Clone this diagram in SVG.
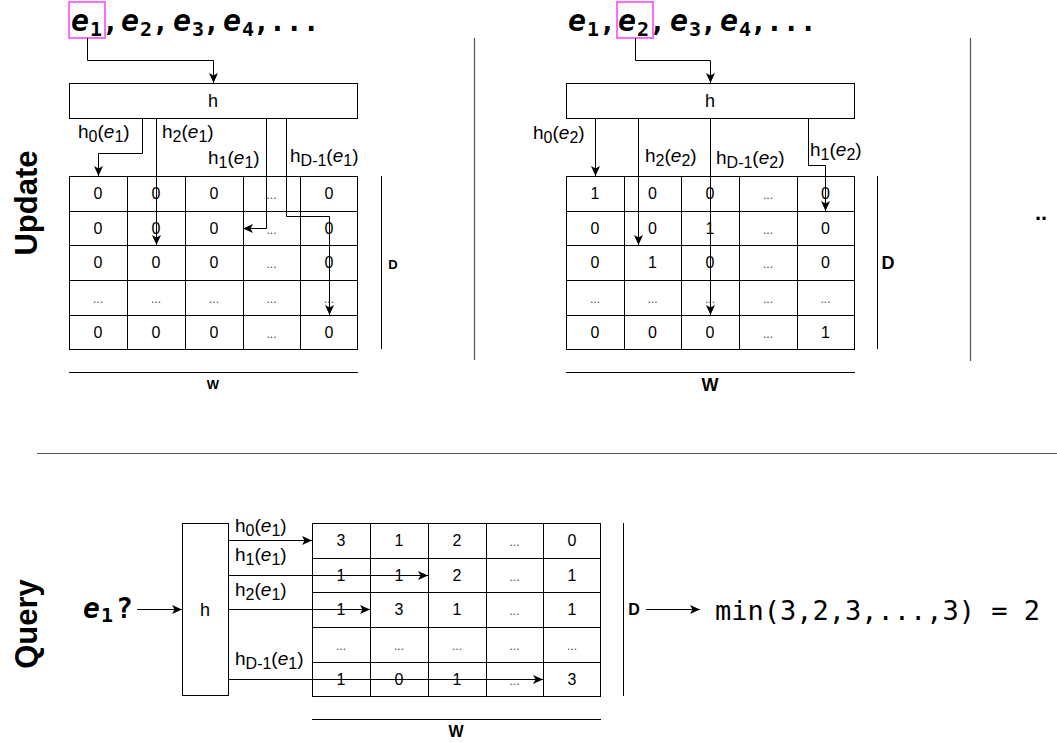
<svg xmlns="http://www.w3.org/2000/svg" width="1057" height="742" viewBox="0 0 1057 742">
<defs>
<marker id="ah" markerUnits="userSpaceOnUse" markerWidth="10" markerHeight="9" viewBox="0 0 10 9" refX="10" refY="4.5" orient="auto">
<path d="M0,0 L10,4.5 L0,9 L2.5,4.5 z" fill="#000"/>
</marker>
<style>
.box{fill:#fff;stroke:#000;stroke-width:1}
.grid{fill:none;stroke:#000;stroke-width:1}
.c{fill:none;stroke:#000;stroke-width:1;marker-end:url(#ah)}
.sep{fill:none;stroke:#555;stroke-width:1.2}
.bar{fill:none;stroke:#000;stroke-width:1}
.pink{fill:none;stroke:#ff6bff;stroke-width:2}
.num{font-family:"Liberation Sans",Arial,sans-serif;font-size:16px;text-anchor:middle;fill:#000}
.dots{font-family:"Liberation Sans",Arial,sans-serif;font-size:12px;text-anchor:middle;fill:#444}
.lbl{font-family:"Liberation Sans",Arial,sans-serif;font-size:19px;fill:#000}
.sb{font-size:16px}
.it{font-style:italic}
.hb{font-family:"Liberation Sans",Arial,sans-serif;font-size:18px;text-anchor:middle}
.dimS{font-family:"Liberation Sans",Arial,sans-serif;font-size:13px;font-weight:bold;text-anchor:middle}
.dimL{font-family:"Liberation Sans",Arial,sans-serif;font-size:18px;font-weight:bold;text-anchor:middle}
.dimB{font-family:"Liberation Sans",Arial,sans-serif;font-size:16px;font-weight:bold;text-anchor:middle}
.side{font-family:"Liberation Sans",Arial,sans-serif;font-size:31px;font-weight:bold;text-anchor:middle}
.e{font-family:"DejaVu Sans Mono",monospace;font-size:30px;font-weight:bold;font-style:italic}
.es{font-family:"DejaVu Sans Mono",monospace;font-size:20px;font-weight:bold}
.m{font-family:"DejaVu Sans Mono",monospace;font-size:28px;font-weight:bold}
.mono{font-family:"DejaVu Sans Mono","Liberation Mono",monospace;font-size:27px}
</style>
</defs>
<rect width="1057" height="742" fill="#fff"/>

<!-- side labels -->
<text class="side" transform="translate(37,203) rotate(-90)">Update</text>
<text class="side" transform="translate(37,624) rotate(-90)">Query</text>

<!-- separators -->
<g id="separators">
<line class="sep" x1="474.5" y1="38" x2="474.5" y2="360"/>
<line class="sep" x1="970.5" y1="38" x2="970.5" y2="361"/>
<line class="sep" x1="37" y1="453.5" x2="1057" y2="453.5"/>
</g>

<!-- sequences -->
<g id="seq-left">
<text y="31"><tspan class="e" x="71">e</tspan><tspan class="es" x="90" y="36">1</tspan><tspan class="m" x="102" y="31">,</tspan><tspan class="e" x="121">e</tspan><tspan class="es" x="140" y="36">2</tspan><tspan class="m" x="152" y="31">,</tspan><tspan class="e" x="173">e</tspan><tspan class="es" x="192" y="36">3</tspan><tspan class="m" x="203" y="31">,</tspan><tspan class="e" x="223">e</tspan><tspan class="es" x="242" y="36">4</tspan><tspan class="m" x="253" y="31">,</tspan><tspan class="m" x="269" y="31">...</tspan></text>
<rect class="pink" x="69" y="2" width="36" height="36"/>
</g>
<g id="seq-right">
<text y="31"><tspan class="e" x="568">e</tspan><tspan class="es" x="587" y="36">1</tspan><tspan class="m" x="599" y="31">,</tspan><tspan class="e" x="618">e</tspan><tspan class="es" x="637" y="36">2</tspan><tspan class="m" x="649" y="31">,</tspan><tspan class="e" x="670">e</tspan><tspan class="es" x="689" y="36">3</tspan><tspan class="m" x="700" y="31">,</tspan><tspan class="e" x="720">e</tspan><tspan class="es" x="739" y="36">4</tspan><tspan class="m" x="750" y="31">,</tspan><tspan class="m" x="766" y="31">...</tspan></text>
<rect class="pink" x="617" y="2" width="36" height="36"/>
</g>

<!-- hash boxes -->
<g id="h-left"><rect class="box" x="69.5" y="83.5" width="288" height="35"/><text class="hb" x="213" y="107">h</text></g>
<g id="h-right"><rect class="box" x="566.5" y="83.5" width="288" height="35"/><text class="hb" x="710" y="107">h</text></g>
<g id="h-query"><rect class="box" x="182.5" y="523.5" width="46" height="172"/><text class="hb" x="205" y="616">h</text></g>

<!-- grid left -->
<g id="grid-left">
<rect class="grid" x="69.5" y="176.5" width="288" height="173"/>
<path class="grid" d="M127.5,176.5V349.5M185.5,176.5V349.5M243.5,176.5V349.5M300.5,176.5V349.5M69.5,211.5H357.5M69.5,245.5H357.5M69.5,280.5H357.5M69.5,315.5H357.5"/>
<g>
<text class="num" x="98" y="199">0</text><text class="num" x="156" y="199">0</text><text class="num" x="214" y="199">0</text><text class="dots" x="271.5" y="199">...</text><text class="num" x="329" y="199">0</text>
<text class="num" x="98" y="234">0</text><text class="num" x="156" y="234">0</text><text class="num" x="214" y="234">0</text><text class="dots" x="271.5" y="234">...</text><text class="num" x="329" y="234">0</text>
<text class="num" x="98" y="268">0</text><text class="num" x="156" y="268">0</text><text class="num" x="214" y="268">0</text><text class="dots" x="271.5" y="268">...</text><text class="num" x="329" y="268">0</text>
<text class="dots" x="98" y="303">...</text><text class="dots" x="156" y="303">...</text><text class="dots" x="214" y="303">...</text><text class="dots" x="271.5" y="303">...</text><text class="dots" x="329" y="303">...</text>
<text class="num" x="98" y="338">0</text><text class="num" x="156" y="338">0</text><text class="num" x="214" y="338">0</text><text class="dots" x="271.5" y="338">...</text><text class="num" x="329" y="338">0</text>
</g>
<line class="bar" x1="381.5" y1="176" x2="381.5" y2="349"/>
<text class="dimS" x="393" y="269">D</text>
<line class="bar" x1="69" y1="372.5" x2="358" y2="372.5"/>
<text class="dimS" x="213" y="389">W</text>
</g>

<!-- grid right -->
<g id="grid-right">
<rect class="grid" x="566.5" y="176.5" width="288" height="173"/>
<path class="grid" d="M624.5,176.5V349.5M681.5,176.5V349.5M739.5,176.5V349.5M797.5,176.5V349.5M566.5,211.5H854.5M566.5,245.5H854.5M566.5,280.5H854.5M566.5,315.5H854.5"/>
<g>
<text class="num" x="595" y="199">1</text><text class="num" x="652.5" y="199">0</text><text class="num" x="710" y="199">0</text><text class="dots" x="768" y="199">...</text><text class="num" x="825.5" y="199">0</text>
<text class="num" x="595" y="234">0</text><text class="num" x="652.5" y="234">0</text><text class="num" x="710" y="234">1</text><text class="dots" x="768" y="234">...</text><text class="num" x="825.5" y="234">0</text>
<text class="num" x="595" y="268">0</text><text class="num" x="652.5" y="268">1</text><text class="num" x="710" y="268">0</text><text class="dots" x="768" y="268">...</text><text class="num" x="825.5" y="268">0</text>
<text class="dots" x="595" y="303">...</text><text class="dots" x="652.5" y="303">...</text><text class="dots" x="710" y="303">...</text><text class="dots" x="768" y="303">...</text><text class="dots" x="825.5" y="303">...</text>
<text class="num" x="595" y="338">0</text><text class="num" x="652.5" y="338">0</text><text class="num" x="710" y="338">0</text><text class="dots" x="768" y="338">...</text><text class="num" x="825.5" y="338">1</text>
</g>
<line class="bar" x1="877.5" y1="176" x2="877.5" y2="349"/>
<text class="dimL" x="888" y="269">D</text>
<line class="bar" x1="566" y1="372.5" x2="855" y2="372.5"/>
<text class="dimL" x="710" y="391">W</text>
</g>

<text id="more" x="1035" y="220" font-family="Liberation Sans, Arial, sans-serif" font-size="22" font-weight="bold">..</text>

<!-- grid query -->
<g id="grid-query">
<rect class="grid" x="312.5" y="523.5" width="288" height="173"/>
<path class="grid" d="M370.5,523.5V696.5M428.5,523.5V696.5M486.5,523.5V696.5M543.5,523.5V696.5M312.5,558.5H600.5M312.5,592.5H600.5M312.5,627.5H600.5M312.5,662.5H600.5"/>
<g>
<text class="num" x="341" y="546">3</text><text class="num" x="399" y="546">1</text><text class="num" x="457" y="546">2</text><text class="dots" x="514.5" y="546">...</text><text class="num" x="572" y="546">0</text>
<text class="num" x="341" y="581">1</text><text class="num" x="399" y="581">1</text><text class="num" x="457" y="581">2</text><text class="dots" x="514.5" y="581">...</text><text class="num" x="572" y="581">1</text>
<text class="num" x="341" y="615">1</text><text class="num" x="399" y="615">3</text><text class="num" x="457" y="615">1</text><text class="dots" x="514.5" y="615">...</text><text class="num" x="572" y="615">1</text>
<text class="dots" x="341" y="650">...</text><text class="dots" x="399" y="650">...</text><text class="dots" x="457" y="650">...</text><text class="dots" x="514.5" y="650">...</text><text class="dots" x="572" y="650">...</text>
<text class="num" x="341" y="685">1</text><text class="num" x="399" y="685">0</text><text class="num" x="457" y="685">1</text><text class="dots" x="514.5" y="685">...</text><text class="num" x="572" y="685">3</text>
</g>
<line class="bar" x1="623.5" y1="523" x2="623.5" y2="696"/>
<text class="dimB" x="634" y="615">D</text>
<line class="bar" x1="312" y1="719.5" x2="601" y2="719.5"/>
<text class="dimB" x="456" y="737">W</text>
</g>

<!-- query input & result -->
<g id="query-input">
<text y="618"><tspan class="e" x="83" style="font-size:28px">e</tspan><tspan class="es" x="101" y="622">1</tspan><tspan class="m" x="116" y="618">?</tspan></text>
</g>
<g id="query-result">
<text class="mono" x="715" y="620">min(3,2,3,...,3) = 2</text>
</g>

<!-- connectors -->
<g id="connectors">
<path class="c" d="M87.5,38V60.5H213.5V83"/>
<path class="c" d="M635.5,38V60.5H710.5V83"/>
<path class="c" d="M142.5,118V153.5H98.5V176"/>
<path class="c" d="M156.5,118V245"/>
<path class="c" d="M266.5,118V228.5H243"/>
<path class="c" d="M286.5,118V216.5H329.5V315"/>
<path class="c" d="M595.5,118V176"/>
<path class="c" d="M638.5,118V245"/>
<path class="c" d="M710.5,118V315"/>
<path class="c" d="M808.5,118V165.5H825.5V211"/>
<path class="c" d="M229,540.5H312"/>
<path class="c" d="M229,575.5H428"/>
<path class="c" d="M229,609.5H370"/>
<path class="c" d="M229,679.5H543"/>
<path class="c" d="M137,609.5H182"/>
<path class="c" d="M646,609.5H700"/>
</g>

<!-- connector labels -->
<g id="labels">
<text class="lbl" x="78" y="138">h<tspan class="sb" dy="4">0</tspan><tspan dy="-4">(</tspan><tspan class="it">e</tspan><tspan class="sb" dy="4">1</tspan><tspan dy="-4">)</tspan></text>
<text class="lbl" x="162" y="138">h<tspan class="sb" dy="4">2</tspan><tspan dy="-4">(</tspan><tspan class="it">e</tspan><tspan class="sb" dy="4">1</tspan><tspan dy="-4">)</tspan></text>
<text class="lbl" x="208" y="164">h<tspan class="sb" dy="4">1</tspan><tspan dy="-4">(</tspan><tspan class="it">e</tspan><tspan class="sb" dy="4">1</tspan><tspan dy="-4">)</tspan></text>
<text class="lbl" x="290" y="162">h<tspan class="sb" dy="4">D-1</tspan><tspan dy="-4">(</tspan><tspan class="it">e</tspan><tspan class="sb" dy="4">1</tspan><tspan dy="-4">)</tspan></text>
<text class="lbl" x="533" y="139">h<tspan class="sb" dy="4">0</tspan><tspan dy="-4">(</tspan><tspan class="it">e</tspan><tspan class="sb" dy="4">2</tspan><tspan dy="-4">)</tspan></text>
<text class="lbl" x="645" y="162">h<tspan class="sb" dy="4">2</tspan><tspan dy="-4">(</tspan><tspan class="it">e</tspan><tspan class="sb" dy="4">2</tspan><tspan dy="-4">)</tspan></text>
<text class="lbl" x="716" y="164">h<tspan class="sb" dy="4">D-1</tspan><tspan dy="-4">(</tspan><tspan class="it">e</tspan><tspan class="sb" dy="4">2</tspan><tspan dy="-4">)</tspan></text>
<text class="lbl" x="810" y="156">h<tspan class="sb" dy="4">1</tspan><tspan dy="-4">(</tspan><tspan class="it">e</tspan><tspan class="sb" dy="4">2</tspan><tspan dy="-4">)</tspan></text>
<text class="lbl" x="235" y="532">h<tspan class="sb" dy="4">0</tspan><tspan dy="-4">(</tspan><tspan class="it">e</tspan><tspan class="sb" dy="4">1</tspan><tspan dy="-4">)</tspan></text>
<text class="lbl" x="235" y="561">h<tspan class="sb" dy="4">1</tspan><tspan dy="-4">(</tspan><tspan class="it">e</tspan><tspan class="sb" dy="4">1</tspan><tspan dy="-4">)</tspan></text>
<text class="lbl" x="235" y="596">h<tspan class="sb" dy="4">2</tspan><tspan dy="-4">(</tspan><tspan class="it">e</tspan><tspan class="sb" dy="4">1</tspan><tspan dy="-4">)</tspan></text>
<text class="lbl" x="235" y="665">h<tspan class="sb" dy="4">D-1</tspan><tspan dy="-4">(</tspan><tspan class="it">e</tspan><tspan class="sb" dy="4">1</tspan><tspan dy="-4">)</tspan></text>
</g>
</svg>
